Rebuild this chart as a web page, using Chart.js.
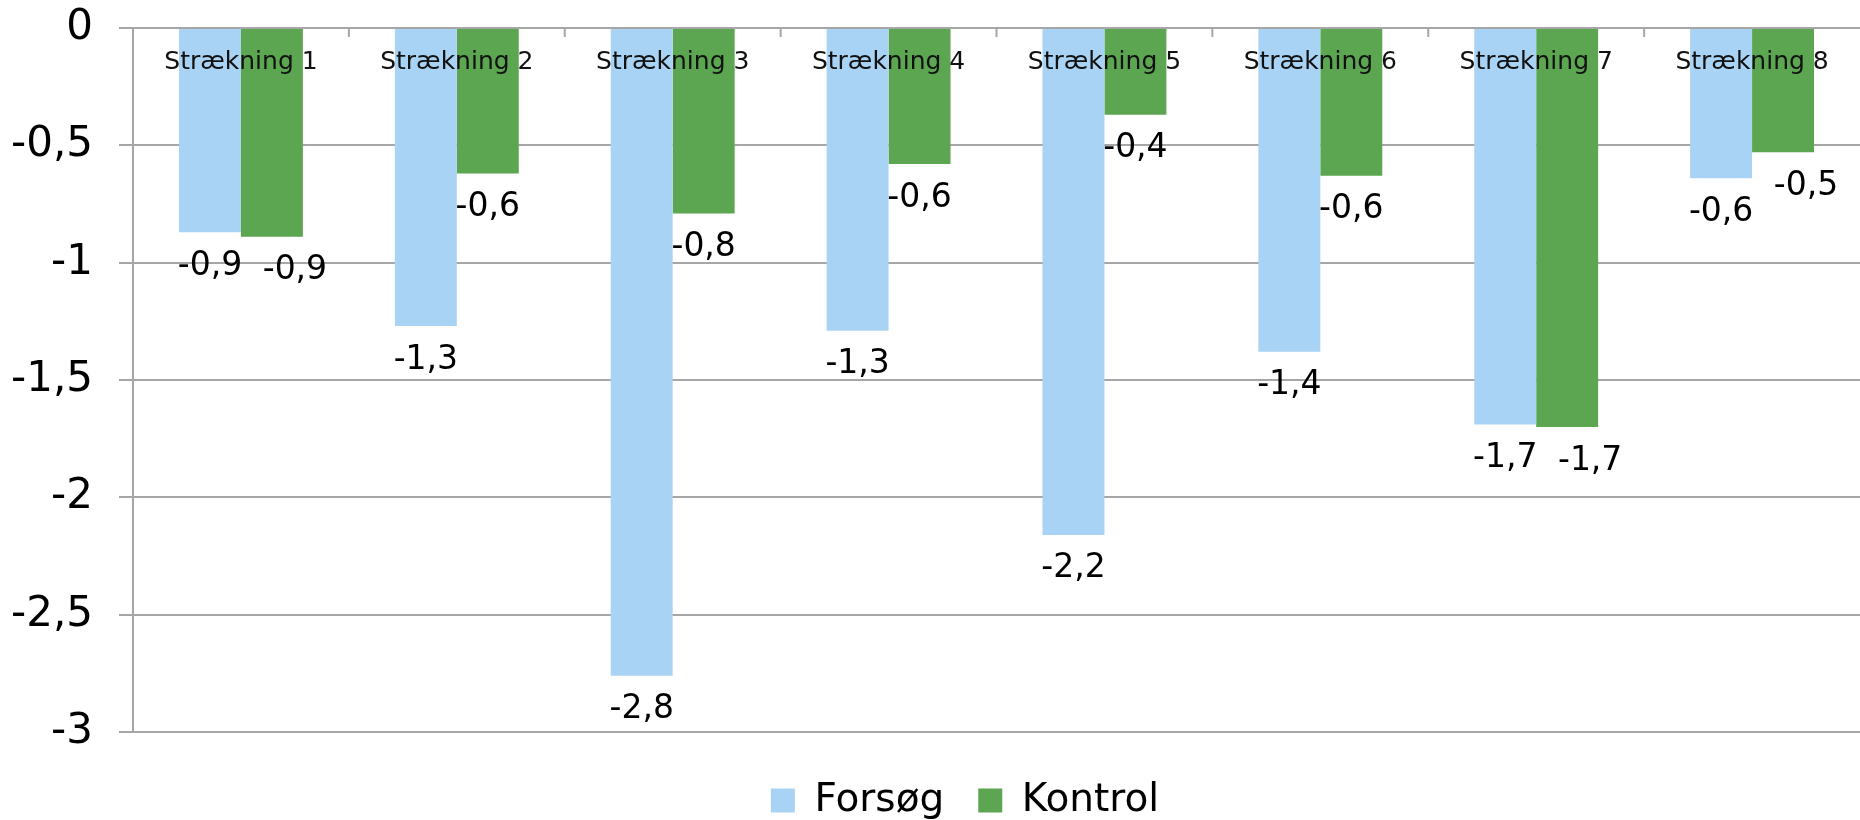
<!DOCTYPE html>
<html><head><meta charset="utf-8">
<script src="https://cdn.jsdelivr.net/npm/chart.js@4.4.1/dist/chart.umd.min.js"></script>
<style>html,body{margin:0;padding:0;background:#fff;overflow:hidden;}</style>
</head><body>
<canvas id="c" width="1860" height="820"></canvas>
<script>
const categories = ['Strækning 1','Strækning 2','Strækning 3','Strækning 4','Strækning 5','Strækning 6','Strækning 7','Strækning 8'];
const forsoegValues = [-0.87, -1.27, -2.76, -1.29, -2.16, -1.38, -1.69, -0.64];
const kontrolValues = [-0.89, -0.62, -0.79, -0.58, -0.37, -0.63, -1.70, -0.53];
const yTickValues = [0, -0.5, -1, -1.5, -2, -2.5, -3];
const seriesNames = ['Forsøg', 'Kontrol'];
const seriesColors = ['#A9D3F4', '#5CA651'];

const FONT = 'DejaVu Sans';
const GRID = '#a6a6a6';
const fmtLabel = v => (Math.round(v * 10) / 10).toFixed(1).replace('.', ',');
const fmtTick = v => String(v).replace('.', ',');

const overlayPlugin = {
  id: 'overlay',
  afterLayout(chart) {
    const l = chart.legend;
    if (l) { l.left += 35; l.right += 35; l.top += 15; l.bottom += 15; }
  },
  afterDatasetsDraw(chart) {
    const ctx = chart.ctx;
    const x = chart.scales.x, area = chart.chartArea;
    ctx.save();
    // category boundary tick marks (inward)
    ctx.strokeStyle = GRID; ctx.lineWidth = 2;
    for (let i = 0; i < categories.length - 1; i++) {
      const bx = (x.getPixelForValue(i) + x.getPixelForValue(i + 1)) / 2;
      ctx.beginPath(); ctx.moveTo(bx, area.top); ctx.lineTo(bx, area.top + 9); ctx.stroke();
    }
    // category labels at top
    ctx.fillStyle = '#111';
    ctx.font = '25px "' + FONT + '"';
    ctx.textAlign = 'center'; ctx.textBaseline = 'middle';
    categories.forEach((c, i) => ctx.fillText(c, x.getPixelForValue(i), area.top + 34));
    // data labels
    ctx.fillStyle = '#000';
    ctx.font = '33px "' + FONT + '"';
    const m0 = chart.getDatasetMeta(0).data, m1 = chart.getDatasetMeta(1).data;
    for (let i = 0; i < categories.length; i++) {
      const b0 = m0[i], b1 = m1[i];
      const y0 = b0.y + 34, y1 = b1.y + 34;
      let dx1 = 0;
      if (Math.abs(y0 - y1) < 40) dx1 = 23;
      ctx.fillText(fmtLabel(forsoegValues[i]), b0.x, y0);
      ctx.fillText(fmtLabel(kontrolValues[i]), b1.x + dx1, y1);
    }
    ctx.restore();
  }
};

new Chart(document.getElementById('c'), {
  type: 'bar',
  data: {
    labels: categories,
    datasets: [
      { label: seriesNames[0], data: forsoegValues, backgroundColor: seriesColors[0], borderWidth: 0 },
      { label: seriesNames[1], data: kontrolValues, backgroundColor: seriesColors[1], borderWidth: 0 }
    ]
  },
  options: {
    responsive: false,
    animation: false,
    devicePixelRatio: 1,
    layout: { padding: { top: 28, right: 0, left: 0, bottom: 5 } },
    datasets: { bar: { categoryPercentage: 0.574, barPercentage: 1 } },
    plugins: {
      tooltip: { enabled: false },
      legend: {
        position: 'bottom',
        labels: { boxWidth: 24, boxHeight: 24, padding: 34, color: '#000', font: { family: FONT, size: 39 } }
      }
    },
    scales: {
      x: { display: false, offset: true },
      y: {
        min: -3, max: 0,
        afterFit(s) { s.width = 133; s.paddingTop = 0; s.paddingBottom = 0; },
        afterBuildTicks(s) { s.ticks = yTickValues.map(v => ({ value: v })); },
        border: { display: true, color: GRID, width: 2 },
        grid: { color: GRID, lineWidth: 2, tickLength: 14, drawTicks: true },
        ticks: { padding: 26, color: '#000', font: { family: FONT, size: 42 }, callback: v => fmtTick(v) }
      }
    }
  },
  plugins: [overlayPlugin]
});
</script>
</body></html>
